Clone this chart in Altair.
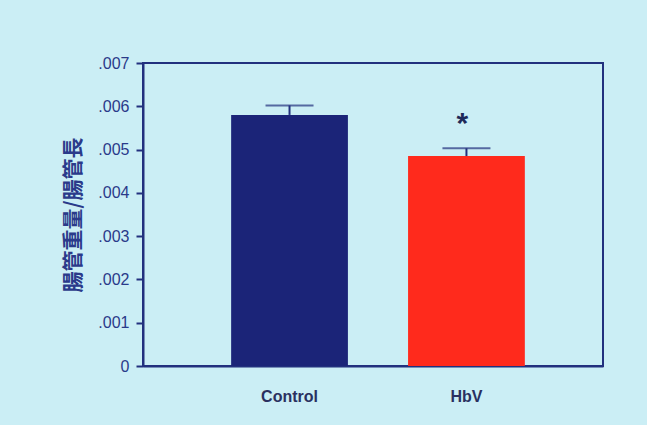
import altair as alt
import pandas as pd

groups = ["Control", "HbV"]
means = [0.0058, 0.00485]
sems = [0.00022, 0.00018]
marks = ["", "*"]
bar_colors = ["#1b2478", "#ff2a1c"]

df = pd.DataFrame({
    "group": groups,
    "mean": means,
    "upper": [m + s for m, s in zip(means, sems)],
    "mark": marks,
    "color": bar_colors,
})

navy = "#22307e"

x = alt.X("group:N", sort=groups,
          scale=alt.Scale(paddingInner=0.34, paddingOuter=0.47, align=0.53),
          axis=alt.Axis(title=None, labelAngle=0, ticks=False, domain=True,
                        domainColor=navy, domainWidth=2,
                        labelFont="Liberation Sans", labelFontSize=16,
                        labelFontWeight="bold", labelColor="#2a3060",
                        labelPadding=22))
y_scale = alt.Scale(domain=[0, 0.007], nice=False)

base = alt.Chart(df)

bars = base.mark_bar(stroke=None).encode(
    x=x,
    y=alt.Y("mean:Q", scale=y_scale,
            axis=alt.Axis(title="腸管重量/腸管長", values=[0, 0.001, 0.002, 0.003, 0.004, 0.005, 0.006, 0.007],
                          labelExpr="datum.value == 0 ? '0' : substring(format(datum.value, '.3f'), 1)",
                          grid=False, domainColor=navy, domainWidth=2,
                          tickColor=navy, tickWidth=2, tickSize=7,
                          labelFont="Liberation Sans", labelFontSize=16,
                          labelColor="#2a3a8a", labelPadding=7,
                          titleFont="Noto Sans CJK JP", titleFontSize=21,
                          titleColor="#2a3a8a", titleFontWeight="bold",
                          titlePadding=14)),
    color=alt.Color("color:N", scale=None),
)

err = base.mark_rule(color=navy, strokeWidth=2).encode(
    x=alt.X("group:N", sort=groups),
    y=alt.Y("mean:Q", scale=y_scale),
    y2="upper:Q",
)

caps = base.mark_tick(color=navy, thickness=2, size=48, orient="horizontal").encode(
    x=alt.X("group:N", sort=groups),
    y=alt.Y("upper:Q", scale=y_scale),
)

star = base.mark_text(fontSize=30, fontWeight="bold", color="#1e2a5a",
                      dy=-24, dx=-4, font="Liberation Sans").encode(
    x=alt.X("group:N", sort=groups),
    y=alt.Y("upper:Q", scale=y_scale),
    text="mark:N",
)

chart = (bars + err + caps + star).properties(
    width=460, height=303,
    background="#cbeef5",
    padding={"left": 143, "top": 63, "right": 44, "bottom": 59},
    autosize=alt.AutoSizeParams(type="none"),
).configure_view(stroke=navy, strokeWidth=2)

chart.save("out.html", embed_options={"renderer": "svg", "actions": False})
